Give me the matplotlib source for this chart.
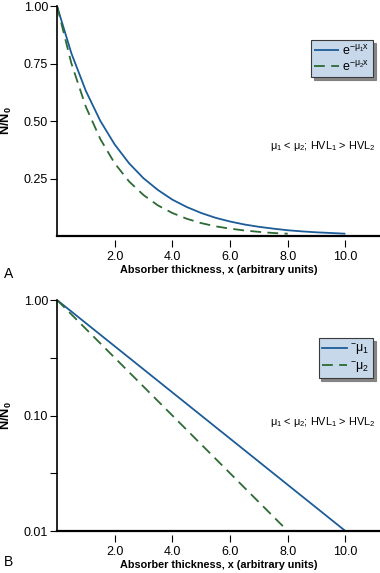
import numpy as np
import matplotlib
matplotlib.use("Agg")
import matplotlib.pyplot as plt
from matplotlib.lines import Line2D

plt.rcParams['font.family'] = ['Liberation Sans', 'DejaVu Sans']
plt.rcParams['mathtext.fontset'] = 'custom'
plt.rcParams['mathtext.rm'] = 'Liberation Sans'
plt.rcParams['mathtext.it'] = 'Liberation Sans'
plt.rcParams['mathtext.bf'] = 'Liberation Sans:bold'

# =============================================================================
# Data
# =============================================================================

# Panel A: linear N/N0 vs thickness
thick_1 = [0.0, 0.5, 1.0, 1.5, 2.0, 2.5, 3.0, 3.5, 4.0, 4.5, 5.0,
           5.5, 6.0, 6.5, 7.0, 7.5, 8.0, 8.5, 9.0, 9.5, 10.0]
frac_1 = [1.000, 0.794, 0.631, 0.501, 0.398, 0.316, 0.251, 0.200, 0.158, 0.126, 0.100,
          0.079, 0.063, 0.050, 0.040, 0.032, 0.025, 0.020, 0.016, 0.013, 0.010]
thick_2 = [0.0, 0.5, 1.0, 1.5, 2.0, 2.5, 3.0, 3.5, 4.0,
           4.5, 5.0, 5.5, 6.0, 6.5, 7.0, 7.5, 8.0]
frac_2 = [1.000, 0.750, 0.562, 0.422, 0.316, 0.237, 0.178, 0.133, 0.100,
          0.075, 0.056, 0.042, 0.032, 0.024, 0.018, 0.013, 0.010]

# Panel B: semilog straight lines (end points)
log_thick_1 = [0.0, 10.0]
log_frac_1 = [1.0, 0.01]
log_thick_2 = [0.0, 8.0]
log_frac_2 = [1.0, 0.01]

x_ticks = [2.0, 4.0, 6.0, 8.0, 10.0]
x_tick_labels = ['2.0', '4.0', '6.0', '8.0', '10.0']
yA_ticks = [0.25, 0.50, 0.75, 1.00]
yA_tick_labels = ['0.25', '0.50', '0.75', '1.00']
yB_ticks = [0.01, 0.10, 1.00]
yB_tick_labels = ['0.01', '0.10', '1.00']
yB_minor = [10 ** -1.5, 10 ** -0.5]

legend_A = [r'e$^{-\mu_1 x}$', r'e$^{-\mu_2 x}$']
legend_B = [r'$^{-}\mu_1$', r'$^{-}\mu_2$']
note = r'$\mu_1$ < $\mu_2$; HVL$_1$ > HVL$_2$'
xlabel = 'Absorber thickness, x (arbitrary units)'

BLUE = '#1c5c98'
GREEN = '#2d6a34'
FS_TICK = 9.0
FS_LAB = 7.8
FS_LEG = 9.0
FS_NOTE = 7.8

fig = plt.figure(figsize=(3.80, 5.73), dpi=100)
W, H = 380.0, 573.0


def make_axes(top_px, bottom_px):
    return fig.add_axes([57 / W, 1 - bottom_px / H, 1 - 57 / W, (bottom_px - top_px) / H])


def style(ax):
    for s in ('top', 'right'):
        ax.spines[s].set_visible(False)
    ax.spines['left'].set_linewidth(1.2)
    # ticks below the axis are detached from it, so hide the real spine
    ax.spines['bottom'].set_position(('outward', 3))
    ax.spines['bottom'].set_visible(False)
    ax.add_line(Line2D([0, 1], [0, 0], transform=ax.transAxes, color='black',
                       lw=1.6, clip_on=False))
    ax.tick_params(axis='x', direction='out', length=5, width=0.8, labelsize=FS_TICK, pad=2.5)
    ax.tick_params(axis='y', direction='out', length=5, width=0.8, labelsize=FS_TICK, pad=1.5)
    ax.set_xlim(0, 11.2)
    ax.set_xticks(x_ticks)
    ax.set_xticklabels(x_tick_labels)
    ax.set_xlabel(xlabel, fontsize=FS_LAB, fontweight='bold', labelpad=2)
    ax.set_ylabel(r'$\mathbf{N/N_0}$', fontsize=9.2)
    ax.yaxis.set_label_coords(-0.132, 0.5)


def legend(ax, labels, anchor):
    leg = ax.legend(labels, loc='upper right', bbox_to_anchor=anchor, fontsize=FS_LEG,
                    frameon=True, fancybox=False, shadow={'color': '#7a7a7a', 'alpha': 0.9},
                    facecolor='#c7d8ea', edgecolor='#3a3a3a', framealpha=1,
                    handlelength=2.0, handletextpad=0.2, borderpad=0.3,
                    labelspacing=0.15, borderaxespad=0)
    leg.get_frame().set_linewidth(0.8)


# ---------------- Panel A ----------------
axA = make_axes(6, 236)
axA.plot(thick_1, frac_1, color=BLUE, lw=1.3, solid_capstyle='butt')
axA.plot(thick_2, frac_2, color=GREEN, lw=1.3, dashes=(6, 3.5))
axA.set_ylim(0, 1.0)
axA.set_yticks(yA_ticks)
axA.set_yticklabels(yA_tick_labels)
style(axA)
legend(axA, legend_A, (0.978, 0.852))
axA.text(0.985, 0.392, note, transform=axA.transAxes, fontsize=FS_NOTE, va='center', ha='right')

# ---------------- Panel B ----------------
axB = make_axes(300, 531)
axB.plot(log_thick_1, log_frac_1, color=BLUE, lw=1.3)
axB.plot(log_thick_2, log_frac_2, color=GREEN, lw=1.3, dashes=(6, 3.5))
axB.set_yscale('log')
axB.set_ylim(0.01, 1.0)
axB.set_yticks(yB_ticks)
axB.set_yticklabels(yB_tick_labels)
axB.set_yticks(yB_minor, minor=True)
axB.set_yticklabels(['', ''], minor=True)
axB.tick_params(axis='y', which='minor', direction='out', length=5, width=0.8)
style(axB)
legend(axB, legend_B, (0.978, 0.835))
axB.text(0.985, 0.47, note, transform=axB.transAxes, fontsize=FS_NOTE, va='center', ha='right')

fig.text(4 / W, 1 - 274 / H, 'A', fontsize=10, va='center', ha='left')
fig.text(4 / W, 1 - 562 / H, 'B', fontsize=10, va='center', ha='left')

fig.savefig('out.png', dpi=100)
